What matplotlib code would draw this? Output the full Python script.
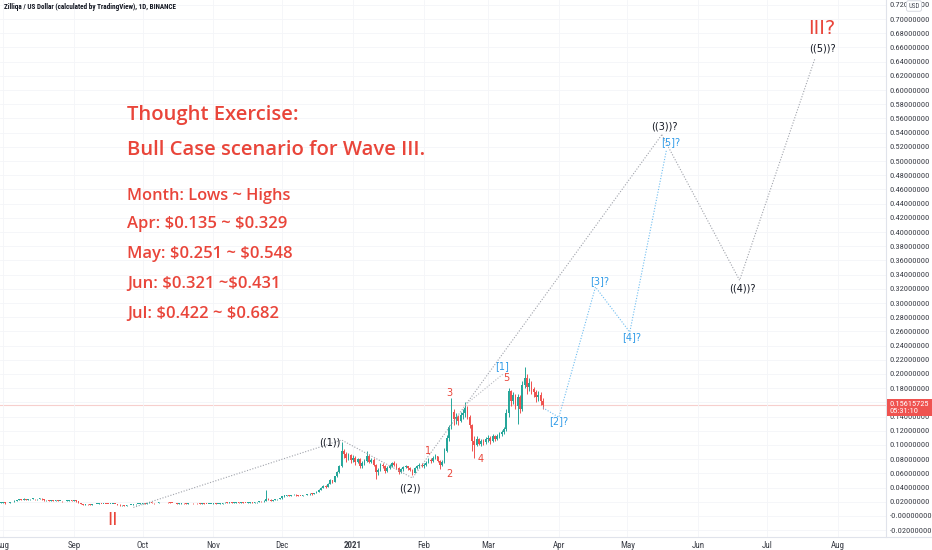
import numpy as np
import pandas as pd
import matplotlib
matplotlib.use("Agg")
import matplotlib.pyplot as plt
import matplotlib.dates as mdates
import matplotlib.transforms as mtransforms
from matplotlib import font_manager
from matplotlib.ticker import FuncFormatter

# daily ZIL/USD candles from 2020-07-30 to 2021-03-25, prices in 1e-3 USD
first_day = "2020-07-30"
first_open = 18.2
closes = [
    18.5, 18.8,
    # Aug
    19.0, 17.8, 18.5, 19.2, 20.0, 21.5, 22.5, 23.8, 23.2, 24.0, 23.0, 23.5, 23.8, 24.2, 23.6, 24.0,
    24.5, 23.5, 22.2, 22.5, 21.2, 21.8, 21.5, 22.0, 21.0, 21.5, 20.8, 21.2, 21.5, 22.0, 21.5,
    # Sep
    22.2, 20.5, 18.0, 17.2, 16.0, 16.5, 16.2, 15.8, 16.5, 16.8, 17.0, 17.2, 16.8, 17.2, 17.0,
    16.8, 17.0, 17.2, 16.8, 16.0, 14.8, 15.0, 14.2, 15.2, 15.5, 15.8, 16.2, 16.8, 17.0, 17.2,
    # Oct
    18.2, 17.5, 18.0, 19.0, 18.8, 17.8, 18.5, 19.2, 19.5, 19.8, 19.2, 19.0, 18.5, 18.2, 17.8, 17.2,
    17.5, 17.8, 17.6, 17.0, 17.8, 18.0, 17.8, 18.0, 17.6, 17.2, 17.5, 17.0, 16.8, 17.0, 17.2,
    # Nov
    17.5, 16.8, 17.2, 17.5, 18.0, 18.8, 18.2, 19.0, 18.6, 18.8, 19.0, 18.8, 19.2, 18.5, 18.2,
    18.8, 19.2, 18.5, 19.0, 19.8, 21.0, 20.5, 21.5, 24.0, 23.2, 21.5, 22.2, 23.5, 24.0, 25.0,
    # Dec
    28.0, 28.8, 29.5, 28.5, 29.2, 30.0, 29.2, 28.5, 28.0, 29.0, 29.8, 30.5, 31.5, 30.8, 32.0, 34.0,
    37.2, 39.5, 42.0, 41.0, 45.5, 50.0, 48.0, 56.0, 62.0, 70.0, 92.0, 87.0, 81.0, 86.0, 79.0,
    # Jan
    82, 76, 80, 71, 74, 78, 85, 76, 79, 72, 62, 65, 72, 70, 64, 68,
    71, 74, 72, 68, 62, 66, 69, 70, 67, 65, 61, 68, 70, 72, 71,
    # Feb
    72, 75, 79, 78, 82, 84, 78, 72, 76, 92, 110, 125, 146, 136,
    140, 134, 142, 145, 152, 140, 128, 106, 100, 108, 102, 106, 104, 108,
    # Mar
    110, 106, 112, 109, 113, 115, 118, 122, 145, 176, 162, 170, 155,
    168, 150, 185, 195, 182, 188, 179, 174, 168, 170, 162, 156.15725,
]
highs = [
    18.9, 19.2,
    19.6, 19.4, 18.9, 19.6, 20.4, 22.0, 23.2, 24.5, 24.2, 24.8, 24.4, 24.0, 24.3, 25.0, 24.5, 24.4,
    25.2, 24.8, 23.8, 22.9, 22.7, 22.1, 22.0, 22.4, 22.2, 21.8, 21.7, 21.5, 21.9, 22.4, 22.3,
    22.8, 22.5, 20.8, 18.3, 17.4, 16.9, 16.8, 16.5, 16.8, 17.2, 17.4, 17.6, 17.3, 17.5, 17.4,
    17.2, 17.3, 17.5, 17.3, 16.9, 16.2, 15.4, 15.2, 15.5, 15.8, 16.1, 16.5, 17.1, 17.4, 17.6,
    18.6, 18.4, 18.3, 19.4, 19.3, 18.9, 18.8, 19.5, 19.9, 20.3, 19.9, 19.4, 19.1, 18.7, 18.3, 17.9,
    17.8, 18.1, 18.0, 17.7, 18.1, 18.4, 18.2, 18.3, 18.1, 17.7, 17.8, 17.6, 17.2, 17.3, 17.5,
    17.8, 17.6, 17.4, 17.8, 18.3, 19.2, 19.0, 19.3, 19.2, 19.1, 19.4, 19.2, 19.5, 19.3, 18.7,
    19.1, 19.6, 19.3, 19.3, 20.1, 21.6, 21.4, 22.0, 36.5, 26.0, 23.8, 22.8, 23.9, 24.5, 25.6,
    28.8, 29.3, 30.2, 29.8, 29.6, 30.6, 30.3, 29.4, 28.8, 29.5, 30.2, 31.0, 32.0, 31.8, 32.5, 34.8,
    38.0, 40.6, 43.2, 43.0, 46.5, 51.5, 51.0, 57.0, 64.0, 72.0, 104.0, 95.0, 90.0, 89.0, 88.0,
    86, 84, 82, 81, 77, 80, 91, 88, 82, 81, 73, 68, 75, 74, 72, 70,
    73, 76, 77, 75, 69, 67.5, 71, 72, 71, 69, 66, 69.5, 72, 74, 74,
    74, 77, 81, 81, 85, 88, 85, 79, 79, 96, 114, 128, 166, 150,
    145, 142, 146, 150, 160, 155, 142, 130, 112, 112, 110, 109, 108, 111,
    114, 112, 115, 114, 116, 118, 121, 125, 150, 180, 178, 175, 172,
    172, 170, 190, 210, 200, 194, 190, 182, 178, 176, 174, 166,
]
lows = [
    17.9, 18.2,
    18.5, 17.2, 17.6, 18.3, 19.0, 19.8, 21.0, 22.2, 22.6, 22.9, 22.3, 22.5, 23.0, 23.4, 23.1, 23.2,
    23.8, 23.0, 21.6, 21.8, 20.8, 20.9, 21.1, 21.3, 20.5, 20.8, 20.3, 20.6, 21.0, 21.3, 21.1,
    21.2, 20.2, 17.6, 16.6, 15.6, 15.8, 15.8, 15.4, 15.7, 16.3, 16.6, 16.9, 16.5, 16.7, 16.8,
    16.5, 16.6, 16.8, 16.5, 15.8, 14.5, 14.5, 14.0, 14.1, 14.9, 15.2, 15.6, 16.0, 16.6, 16.8,
    17.0, 17.2, 17.3, 17.8, 18.4, 17.5, 17.6, 18.3, 19.0, 19.3, 19.0, 18.8, 18.3, 18.0, 17.6, 17.0,
    17.0, 17.3, 17.4, 16.8, 16.9, 17.6, 17.5, 17.6, 17.4, 17.0, 17.0, 16.8, 16.6, 16.7, 16.9,
    17.1, 16.5, 16.7, 17.1, 17.3, 17.9, 18.0, 18.1, 18.4, 18.4, 18.6, 18.5, 18.7, 18.3, 18.0,
    18.1, 18.7, 18.3, 18.3, 18.8, 19.6, 20.1, 20.3, 21.3, 22.5, 20.5, 21.0, 22.0, 23.2, 23.7,
    24.5, 27.4, 28.3, 28.0, 28.2, 28.9, 28.8, 28.1, 27.5, 27.8, 28.9, 29.5, 30.2, 30.2, 30.5, 31.8,
    33.8, 36.5, 39.0, 39.8, 40.5, 44.8, 46.5, 47.5, 55.0, 61.0, 69.0, 82.0, 76.0, 79.0, 75.0,
    76, 72, 74, 67, 68, 72, 76, 74, 74, 70, 52, 58, 63, 67, 61, 62,
    66, 69, 70, 66, 59, 60, 64, 67, 65, 63, 58, 60, 66, 68, 69,
    68, 70, 74, 75, 76, 80, 76, 66, 70, 74, 90, 106, 122, 128,
    130, 128, 132, 136, 140, 136, 124, 92, 82, 98, 100, 98, 100, 102,
    104, 102, 104, 105, 107, 110, 112, 115, 120, 140, 155, 158, 150,
    130, 145, 148, 180, 172, 176, 172, 168, 160, 162, 156, 150,
]

# projected Elliott wave path (primary, black labels)
primary_dates = ["2020-09-27", "2020-12-27", "2021-01-27", "2021-05-16", "2021-06-19", "2021-07-22"]
primary_prices = [0.012, 0.107, 0.0535, 0.537, 0.332, 0.645]
# intermediate waves inside ((3)) (blue), starting at the last close
intermediate_dates = ["2021-03-25", "2021-04-01", "2021-04-17", "2021-05-02", "2021-05-18"]
intermediate_prices = [0.1525, 0.139, 0.3225, 0.259, 0.515]
channel_dates = ["2021-02-20", "2021-03-08"]
channel_prices = [0.159, 0.201]

black_labels = ["((1))", "((2))", "((3))?", "((4))?", "((5))?"]
black_label_dates = ["2020-12-22", "2021-01-26", "2021-05-17", "2021-06-20", "2021-07-25"]
black_label_prices = [0.103, 0.039, 0.549, 0.320, 0.658]
blue_labels = ["[1]", "[2]?", "[3]?", "[4]?", "[5]?"]
blue_label_dates = ["2021-03-07", "2021-04-01", "2021-04-19", "2021-05-03", "2021-05-20"]
blue_label_prices = [0.211, 0.134, 0.331, 0.252, 0.527]
red_labels = ["1", "2", "3", "4", "5"]
red_label_dates = ["2021-02-03", "2021-02-12", "2021-02-12", "2021-02-26", "2021-03-09"]
red_label_prices = [0.0915, 0.059, 0.173, 0.080, 0.194]

month_ticks = ["2020-08-01", "2020-09-01", "2020-10-01", "2020-11-01", "2020-12-01", "2021-01-01",
               "2021-02-01", "2021-03-01", "2021-04-01", "2021-05-01", "2021-06-01", "2021-07-01",
               "2021-08-01"]
month_labels = ["Aug", "Sep", "Oct", "Nov", "Dec", "2021", "Feb", "Mar", "Apr", "May", "Jun", "Jul", "Aug"]

notes = ["Thought Exercise:", "Bull Case scenario for Wave III.", "Month: Lows ~ Highs",
         "Apr: $0.135 ~ $0.329", "May: $0.251 ~ $0.548", "Jun: $0.321 ~$0.431", "Jul: $0.422 ~ $0.682"]

GREEN = "#26a69a"
RED = "#ef5350"
TEXT_RED = "#e9453a"

# pick a condensed face for the price scale if one is installed
installed = {f.name for f in font_manager.fontManager.ttflist}
narrow_name = next((n for n in ["Liberation Sans Narrow", "Roboto Condensed", "DejaVu Sans Condensed",
                                "Open Sans Condensed"] if n in installed), None)
if narrow_name:
    NARROW = [narrow_name, "DejaVu Sans"]
    scale_size = 6.0
else:
    NARROW = ["Liberation Sans", "DejaVu Sans"]
    scale_size = 5.1

fig = plt.figure(figsize=(9.32, 5.5), dpi=100)
ax = fig.add_axes([0, 13 / 550, 886 / 932, 537 / 550])

# candles
dates = pd.date_range(first_day, periods=len(closes), freq="D")
x = mdates.date2num(dates)
c = np.array(closes) / 1000
o = np.r_[first_open, closes[:-1]] / 1000
h = np.maximum(np.array(highs) / 1000, np.maximum(o, c))
l = np.minimum(np.array(lows) / 1000, np.minimum(o, c))
colors = np.where(c >= o, GREEN, RED)
ax.vlines(x, l, h, colors=colors, linewidth=0.7, zorder=3)
ax.bar(x, np.maximum(np.abs(c - o), 0.0009), bottom=np.minimum(o, c), width=0.72,
       color=colors, linewidth=0, zorder=4)

# last price line
ax.axhline(c[-1], color="#f7cfcd", linewidth=0.8, zorder=1)

# wave projections
pd_dates = mdates.date2num(pd.to_datetime(primary_dates))
dots = (0, (1, 1.5))
ax.plot(pd_dates[:4], primary_prices[:4], color="#a0a3ab", linestyle=dots, linewidth=0.8, zorder=5)
ax.plot(pd_dates[3:], primary_prices[3:], color="#a0a3ab", linestyle=dots, linewidth=0.8, zorder=5)
ax.plot(mdates.date2num(pd.to_datetime(intermediate_dates)), intermediate_prices, color="#6fbdf0",
        linestyle=dots, linewidth=0.8, zorder=5)
ax.plot(mdates.date2num(pd.to_datetime(channel_dates)), channel_prices, color="#b8bac0",
        linestyle=dots, linewidth=0.8, zorder=5)

for lab, d, p in zip(black_labels, black_label_dates, black_label_prices):
    ax.text(mdates.date2num(pd.Timestamp(d)), p, lab, color="#131722", fontsize=7,
            ha="center", va="center", zorder=6)
for lab, d, p in zip(blue_labels, blue_label_dates, blue_label_prices):
    ax.text(mdates.date2num(pd.Timestamp(d)), p, lab, color="#2f9be8", fontsize=7,
            ha="center", va="center", zorder=6)
for lab, d, p in zip(red_labels, red_label_dates, red_label_prices):
    ax.text(mdates.date2num(pd.Timestamp(d)), p, lab, color=TEXT_RED, fontsize=7,
            ha="center", va="center", zorder=6)

ax.text(mdates.date2num(pd.Timestamp("2020-09-18")), -0.006, "II", color=TEXT_RED, fontsize=13,
        ha="center", va="center", zorder=6)
ax.text(mdates.date2num(pd.Timestamp("2021-07-25")), 0.687, "III?", color=TEXT_RED, fontsize=14,
        ha="center", va="center", zorder=6)

# axes setup
jan1 = mdates.date2num(pd.Timestamp("2021-01-01"))
ax.set_xlim(jan1 - 154.3, jan1 + 233.0)
ax.set_ylim(-0.0296, 0.7268)
ax.set_xticks(mdates.date2num(pd.to_datetime(month_ticks)))
ax.set_xticklabels(month_labels)
for t in ax.get_xticklabels():
    t.set_family(NARROW)
    if t.get_text() == "2021":
        t.set_fontweight("bold")
ax.tick_params(axis="x", length=0, pad=3, labelsize=6.5, labelcolor="#3b3e47")
ax.yaxis.tick_right()
ax.set_yticks(np.arange(-0.02, 0.7201, 0.02))


def price_fmt(v, pos):
    if abs(v) < 1e-9:
        return "-0.00000000"
    return f"{v:.8f}"


ax.yaxis.set_major_formatter(FuncFormatter(price_fmt))
ax.tick_params(axis="y", length=0, pad=2.5, labelsize=scale_size, labelcolor="#3b3e47")
for t in ax.get_yticklabels():
    t.set_family(NARROW)
ax.grid(True, color="#f4f5f8", linewidth=0.6, zorder=0)
for side in ["top", "left", "bottom"]:
    ax.spines[side].set_visible(False)
ax.spines["right"].set_color("#e0e3eb")
ax.spines["right"].set_linewidth(0.8)

# bottom separator
fig.add_artist(plt.Line2D([0, 1], [13 / 550, 13 / 550], color="#e0e3eb", linewidth=0.8))

# last price tag on the price scale
blend = mtransforms.blended_transform_factory(ax.transAxes, ax.transData)
ax.text(1.004, c[-1] - 0.0035, "0.15615725\n05:31:10", transform=blend, fontsize=scale_size,
        family=NARROW, color="white", ha="left", va="center", linespacing=1.05,
        bbox=dict(boxstyle="square,pad=0.3", fc=RED, ec="none"), clip_on=False, zorder=20)

# header and currency tag
fig.text(4 / 932, 1 - 7 / 550, "Zilliqa / US Dollar (calculated by TradingView), 1D, BINANCE",
         fontsize=scale_size * 0.86, family=NARROW, fontweight="bold", color="#131722",
         va="center", ha="left")
fig.text(914 / 932, 1 - 6 / 550, "USD", fontsize=5, family=NARROW, color="#50535e",
         ha="center", va="center", zorder=20,
         bbox=dict(boxstyle="round,pad=0.25", fc="white", ec="#d1d4dc", lw=0.6))

# note block
note_baselines = [120, 155, 200, 228.3, 258.3, 288.3, 317.7]
note_sizes = [14.6, 14.6, 11.8, 12, 12, 12, 12]
for txt, yb, fs in zip(notes, note_baselines, note_sizes):
    fig.text(127 / 932, 1 - yb / 550, txt, fontsize=fs, family=["Open Sans", "DejaVu Sans"],
             fontweight="semibold", color=TEXT_RED, ha="left", va="baseline", parse_math=False)

fig.savefig("out.png", dpi=100, facecolor="white")
